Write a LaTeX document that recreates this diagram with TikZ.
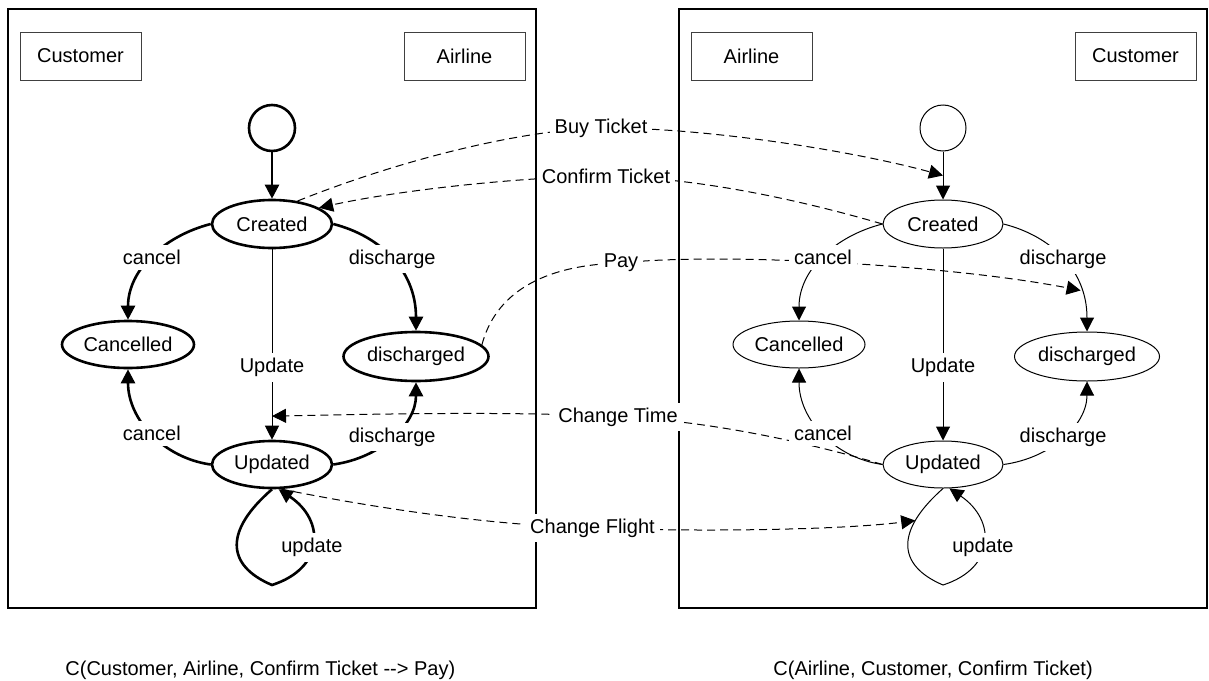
\documentclass[tikz,border=0pt]{standalone}
\usepackage{fontspec}
\setmainfont{Liberation Sans}
\usetikzlibrary{arrows.meta,shapes.geometric}
\pgfdeclarelayer{paper}
\pgfdeclarelayer{msglayer}
\pgfsetlayers{paper,msglayer,main}

\tikzset{
  panelframe/.style={draw, line width=1pt},
  party/.style={draw=black!75, line width=0.5pt, minimum width=60.5pt, minimum height=24pt, inner sep=0pt},
  arrowhd/.style={-{Triangle[length=7pt,width=7pt]}},
  tlabel/.style={fill=white, inner sep=2.5pt},
  mlabel/.style={fill=white, inner sep=2.5pt},
  msg/.style={line width=0.5pt, dash pattern=on 4pt off 2.5pt, arrowhd},
  thinline/.style={line width=0.5pt},
  heavy/.style={trans/.style={line width=1.3pt}, stateline/.style={line width=1.3pt}},
  light/.style={trans/.style={line width=0.5pt}, stateline/.style={line width=0.5pt}},
  fsmstate/.style={ellipse, draw, stateline, inner sep=0pt},
  initstate/.style={circle, draw, stateline, minimum size=23pt, inner sep=0pt},
}

% one protocol state machine inside its frame; #1 name prefix, #2/#3 party names
\newcommand{\fsmpanel}[3]{%
  \draw[panelframe] (8,9) rectangle (536,608);
  \node[party] (#1-partyA) at (80.5,56) {#2};
  \node[party] (#1-partyB) at (464.5,56) {#3};
  \node[initstate] (#1-init) at (272,128) {};
  \node[fsmstate, minimum width=60pt, minimum height=24pt] (#1-Created) at (272,224) {Created};
  \node[fsmstate, minimum width=66pt, minimum height=23.5pt] (#1-Cancelled) at (128,344.5) {Cancelled};
  \node[fsmstate, minimum width=72.5pt, minimum height=24.5pt] (#1-discharged) at (416,356.5) {discharged};
  \node[fsmstate, minimum width=60pt, minimum height=23.5pt] (#1-Updated) at (272,464.5) {Updated};
  \coordinate (#1-loop) at (272,585);
  \draw[trans,arrowhd] (#1-init) -- (#1-Created) coordinate[midway] (#1-buy);
  \draw[trans,arrowhd] (#1-Created.west) .. controls (164,236) and (128,270) .. (#1-Cancelled.north)
     node[tlabel,midway] {cancel};
  \draw[trans,arrowhd] (#1-Created.east) .. controls (380,236) and (416,270) .. (#1-discharged.north)
     node[tlabel,midway] {discharge} coordinate[pos=0.75] (#1-pay);
  \draw[trans,arrowhd] (#1-Updated.west) .. controls (164,458) and (128,420) .. (#1-Cancelled.south)
     node[tlabel,midway] {cancel};
  \draw[trans,arrowhd] (#1-Updated.east) .. controls (380,458) and (416,425) .. (#1-discharged.south)
     node[tlabel,midway] {discharge};
  \draw[thinline,arrowhd] (#1-Created) -- (#1-Updated)
     node[tlabel,pos=0.62] {Update} coordinate[pos=0.876] (#1-chg);
  \draw[trans,arrowhd] (#1-Updated.south) .. controls (225,530) and (225,565) .. (#1-loop)
     coordinate[pos=0.27] (#1-flight)
     .. controls (325,568) and (325,520) .. (#1-Updated.285) node[tlabel,pos=0.45] {update};
}

\begin{document}
\begin{tikzpicture}[x=0.5pt,y=-0.5pt,font=\fontsize{10pt}{12pt}\selectfont]
  \begin{pgfonlayer}{paper}
    \fill[white] (0,0) rectangle (1209,680);
  \end{pgfonlayer}
  \useasboundingbox (0,0) rectangle (1209,680);

  \begin{scope}[heavy]
    \fsmpanel{L}{Customer}{Airline}
  \end{scope}
  \begin{scope}[xshift=335.5pt, light]
    \fsmpanel{R}{Airline}{Customer}
  \end{scope}

  % message label positions
  \coordinate (buyc) at (601,128);
  \coordinate (confc) at (606,176);
  \coordinate (payc) at (621,263);
  \coordinate (timec) at (618,417);
  \coordinate (flightc) at (592.5,528);

  \begin{pgfonlayer}{msglayer}
    \draw[msg] (L-Created.42) .. controls (400,160) and (520,130) .. (buyc)
               .. controls (700,127) and (850,150) .. (R-buy);
    \draw[msg] (R-Created.west) .. controls (800,200) and (700,178) .. (confc)
               .. controls (520,177) and (400,190) .. (L-Created.19);
    \draw[msg] (L-discharged.10) .. controls (495,295) and (540,265) .. (payc)
               .. controls (720,252) and (950,265) .. (R-pay);
    \draw[msg] (R-Updated.west) .. controls (800,440) and (700,420) .. (timec)
               .. controls (520,411) and (380,414) .. (L-chg);
    \draw[msg] (L-Updated.290) .. controls (360,505) and (480,525) .. (flightc)
               .. controls (700,532) and (840,530) .. (R-flight);
  \end{pgfonlayer}

  \node[mlabel] (buy) at (buyc) {Buy Ticket};
  \node[mlabel] (confirm) at (confc) {Confirm Ticket};
  \node[mlabel] (pay) at (payc) {Pay};
  \node[mlabel] (time) at (timec) {Change Time};
  \node[mlabel] (flight) at (flightc) {Change Flight};

  \node[anchor=base west, inner sep=0pt] (capL) at (65,675)
    {C(Customer, Airline, Confirm Ticket -\kern0pt-\kern0pt\textgreater{} Pay)};
  \node[anchor=base west, inner sep=0pt] (capR) at (773,675)
    {C(Airline, Customer, Confirm Ticket)};
\end{tikzpicture}
\end{document}
